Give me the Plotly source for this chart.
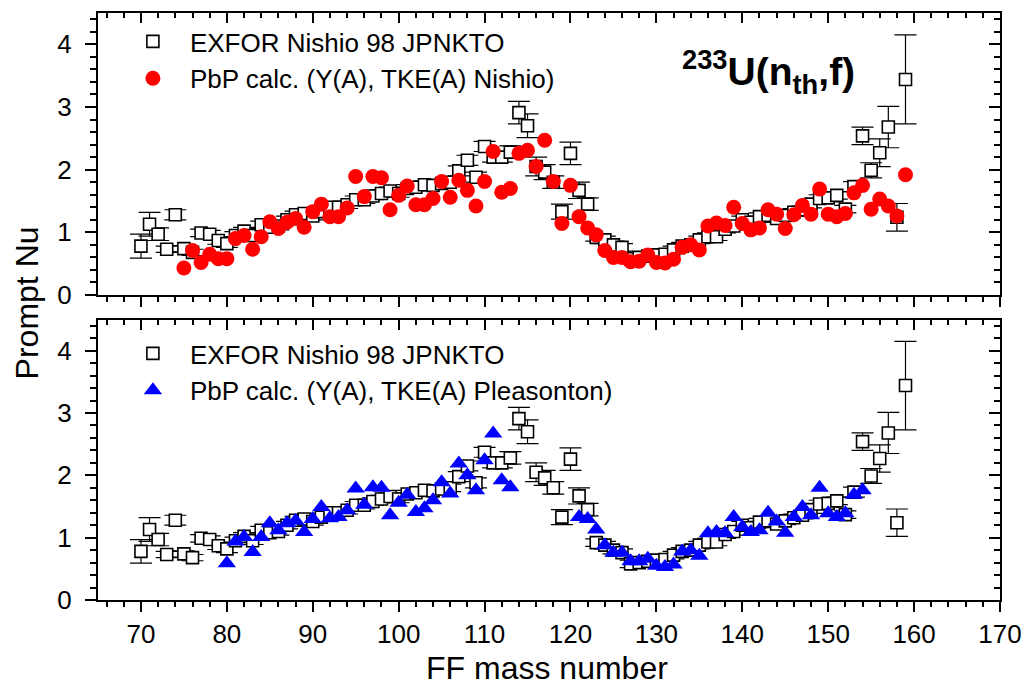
import plotly.graph_objects as go

# ---------------- data ----------------
exfor_A = list(range(70, 160))
exfor_nu = [0.78, 1.13, 0.97, 0.73, 1.28, 0.74, 0.68, 0.99, 0.97, 0.87,
            0.82, 0.95, 1.02, 0.95, 1.12, 1.08, 1.10, 1.20, 1.28, 1.30,
            1.26, 1.33, 1.40, 1.40, 1.44, 1.52, 1.52, 1.58, 1.62, 1.66,
            1.62, 1.70, 1.72, 1.76, 1.75, 1.78, 1.80, 1.98, 2.15, 1.88,
            2.37, 2.20, 2.20, 2.28, 2.91, 2.70, 2.05, 1.96, 1.80, 1.33,
            2.26, 1.67, 1.45, 0.92, 0.88, 0.80, 0.76, 0.58, 0.60, 0.62,
            0.64, 0.65, 0.72, 0.78, 0.80, 0.88, 0.93, 0.93, 1.05, 1.10,
            1.20, 1.16, 1.25, 1.27, 1.22, 1.27, 1.32, 1.36, 1.45, 1.54,
            1.55, 1.59, 1.37, 1.73, 2.54, 1.99, 2.27, 2.68, 1.24, 3.44]
exfor_err = [0.19, 0.19, 0.10, 0.05, 0.08, 0.05, 0.05, 0.06, 0.06, 0.06,
             0.06, 0.06, 0.06, 0.06, 0.06, 0.06, 0.06, 0.06, 0.06, 0.06,
             0.06, 0.06, 0.06, 0.06, 0.06, 0.06, 0.06, 0.06, 0.06, 0.06,
             0.06, 0.06, 0.06, 0.06, 0.06, 0.06, 0.06, 0.08, 0.08, 0.08,
             0.08, 0.08, 0.08, 0.10, 0.18, 0.19, 0.15, 0.12, 0.10, 0.12,
             0.18, 0.13, 0.10, 0.06, 0.06, 0.06, 0.06, 0.06, 0.06, 0.06,
             0.06, 0.06, 0.06, 0.06, 0.06, 0.06, 0.06, 0.06, 0.06, 0.06,
             0.06, 0.06, 0.06, 0.06, 0.06, 0.06, 0.06, 0.06, 0.06, 0.06,
             0.06, 0.06, 0.06, 0.08, 0.14, 0.12, 0.22, 0.33, 0.22, 0.71]

nishio_A = list(range(75, 160))
nishio_nu = [0.43, 0.71, 0.52, 0.65, 0.58, 0.58, 0.90, 0.95, 0.73, 0.93,
             1.17, 1.06, 1.16, 1.22, 1.08, 1.33, 1.45, 1.25, 1.25, 1.39,
             1.89, 1.57, 1.89, 1.87, 1.36, 1.59, 1.74, 1.44, 1.44, 1.54,
             1.81, 1.56, 1.83, 1.67, 1.42, 1.81, 2.29, 1.64, 1.70, 2.26,
             2.31, 2.05, 2.47, 1.81, 1.14, 1.75, 1.25, 1.07, 0.96, 0.71,
             0.60, 0.60, 0.53, 0.54, 0.64, 0.52, 0.51, 0.57, 0.76, 0.80,
             0.72, 1.10, 1.15, 1.11, 1.40, 1.14, 1.04, 1.07, 1.36, 1.29,
             1.06, 1.28, 1.43, 1.29, 1.69, 1.29, 1.25, 1.30, 1.63, 1.75,
             1.37, 1.53, 1.42, 1.26, 1.92]

pleas_A = list(range(80, 114)) + list(range(121, 155))
pleas_nu = [0.59, 0.94, 1.01, 0.77, 1.01, 1.23, 1.12, 1.23, 1.27, 1.09,
            1.30, 1.49, 1.31, 1.33, 1.44, 1.79, 1.53, 1.81, 1.80, 1.36,
            1.56, 1.69, 1.41, 1.47, 1.60, 1.89, 1.71, 2.19, 2.00, 1.76,
            2.24, 2.67, 1.92, 1.81,
            1.33, 1.30, 1.13, 0.88, 0.76, 0.76, 0.62, 0.62, 0.66, 0.55,
            0.53, 0.57, 0.78, 0.80, 0.71, 1.07, 1.09, 1.07, 1.33, 1.17,
            1.09, 1.12, 1.40, 1.26, 1.08, 1.33, 1.49, 1.36, 1.80, 1.39,
            1.33, 1.39, 1.69, 1.76]

x_ticks = [70, 80, 90, 100, 110, 120, 130, 140, 150, 160, 170]
y_ticks = [0, 1, 2, 3, 4]

# ---------------- styling ----------------
FONT = "Liberation Sans, Arial, sans-serif"
W, H = 1034, 691
ML, MR, MT, MB = 98, 29, 13, 91
PW, PH = W - ML - MR, H - MT - MB


def px2paper_x(px):
    return (px - ML) / PW


def px2paper_y(py):
    return (H - MB - py) / PH


exfor_marker = dict(symbol="square", size=12, color="white",
                    line=dict(color="black", width=1.6))
exfor_err_style = dict(type="data", array=exfor_err, visible=True,
                       color="black", thickness=1.2, width=11)

fig = go.Figure()

# top panel (x2, y2)
fig.add_trace(go.Scatter(x=exfor_A, y=exfor_nu, mode="markers",
                         name="EXFOR Nishio 98 JPNKTO",
                         marker=exfor_marker, error_y=exfor_err_style,
                         xaxis="x2", yaxis="y2", legend="legend"))
fig.add_trace(go.Scatter(x=nishio_A, y=nishio_nu, mode="markers",
                         name="PbP calc. (Y(A), TKE(A) Nishio)",
                         marker=dict(symbol="circle", size=15, color="#ff0000"),
                         xaxis="x2", yaxis="y2", legend="legend"))

# bottom panel (x, y)
fig.add_trace(go.Scatter(x=exfor_A, y=exfor_nu, mode="markers",
                         name="EXFOR Nishio 98 JPNKTO",
                         marker=exfor_marker, error_y=exfor_err_style,
                         xaxis="x", yaxis="y", legend="legend2"))
fig.add_trace(go.Scatter(x=pleas_A, y=pleas_nu, mode="markers",
                         name="PbP calc. (Y(A), TKE(A) Pleasonton)",
                         marker=dict(symbol="triangle-up", size=16, color="#0000ff"),
                         xaxis="x", yaxis="y", legend="legend2"))

# empty traces so the mirrored (inside-tick) frame axes get drawn
for xa, ya in (("x3", "y3"), ("x4", "y4")):
    fig.add_trace(go.Scatter(x=[], y=[], xaxis=xa, yaxis=ya, showlegend=False,
                             hoverinfo="skip"))

TICKFONT = dict(family=FONT, size=26, color="black")


def xax(**kw):
    d = dict(range=[65, 170], tickvals=x_ticks, showgrid=False, zeroline=False,
             showline=True, linecolor="black", linewidth=2,
             ticks="outside", ticklen=10, tickwidth=2, tickcolor="black",
             minor=dict(dtick=2, ticks="outside", ticklen=5, tickwidth=1.5,
                        tickcolor="black", showgrid=False),
             tickfont=TICKFONT)
    d.update(kw)
    return d


def yax(**kw):
    d = dict(range=[0, 4.5], tickvals=y_ticks, showgrid=False, zeroline=False,
             showline=True, linecolor="black", linewidth=2,
             ticks="outside", ticklen=11, tickwidth=2, tickcolor="black",
             ticklabelstandoff=8,
             minor=dict(dtick=0.2, ticks="outside", ticklen=6, tickwidth=1.5,
                        tickcolor="black", showgrid=False),
             tickfont=TICKFONT)
    d.update(kw)
    return d


inside_minor_x = dict(dtick=2, ticks="inside", ticklen=5, tickwidth=1.5,
                      tickcolor="black", showgrid=False)
inside_minor_y = dict(dtick=0.2, ticks="inside", ticklen=6, tickwidth=1.5,
                      tickcolor="black", showgrid=False)

top_dom = [px2paper_y(295), 1.0]
bot_dom = [0.0, px2paper_y(319.5)]

LEG_X = px2paper_x(116)
LEGFONT = dict(family=FONT, size=26, color="black")

fig.update_layout(
    width=W, height=H,
    margin=dict(l=ML, r=MR, t=MT, b=MB, pad=0),
    paper_bgcolor="white", plot_bgcolor="white",
    font=dict(family=FONT, color="black"),
    showlegend=True,
    xaxis=xax(anchor="y", domain=[0, 1]),
    yaxis=yax(anchor="x", domain=bot_dom),
    xaxis2=xax(anchor="y2", domain=[0, 1], showticklabels=False, matches="x"),
    yaxis2=yax(anchor="x2", domain=top_dom),
    xaxis3=xax(anchor="y3", overlaying="x", side="top", showticklabels=False,
               ticks="inside", minor=inside_minor_x),
    yaxis3=yax(anchor="x3", overlaying="y", side="right", showticklabels=False,
               ticks="inside", minor=inside_minor_y),
    xaxis4=xax(anchor="y4", overlaying="x2", side="top", showticklabels=False,
               ticks="inside", minor=inside_minor_x),
    yaxis4=yax(anchor="x4", overlaying="y2", side="right", showticklabels=False,
               ticks="inside", minor=inside_minor_y),
    legend=dict(x=LEG_X, y=px2paper_y(18), xanchor="left", yanchor="top",
                bgcolor="rgba(0,0,0,0)", borderwidth=0, itemwidth=64,
                font=LEGFONT, tracegroupgap=0),
    legend2=dict(x=LEG_X, y=px2paper_y(330), xanchor="left", yanchor="top",
                 bgcolor="rgba(0,0,0,0)", borderwidth=0, itemwidth=64,
                 font=LEGFONT, tracegroupgap=0),
)

fig.add_annotation(text="<b><sup>233</sup>U(n<sub>th</sub>,f)</b>",
                   xref="paper", yref="paper",
                   x=px2paper_x(683), y=px2paper_y(72),
                   xanchor="left", yanchor="middle", showarrow=False,
                   font=dict(family=FONT, size=39, color="black"))

fig.add_annotation(text="Prompt Nu", textangle=-90,
                   xref="paper", yref="paper",
                   x=px2paper_x(27), y=px2paper_y(303),
                   xanchor="center", yanchor="middle", showarrow=False,
                   font=dict(family=FONT, size=32, color="black"))

fig.add_annotation(text="FF mass number",
                   xref="paper", yref="paper",
                   x=px2paper_x(549), y=px2paper_y(668),
                   xanchor="center", yanchor="middle", showarrow=False,
                   font=dict(family=FONT, size=32, color="black"))

fig.write_html("out.html")
